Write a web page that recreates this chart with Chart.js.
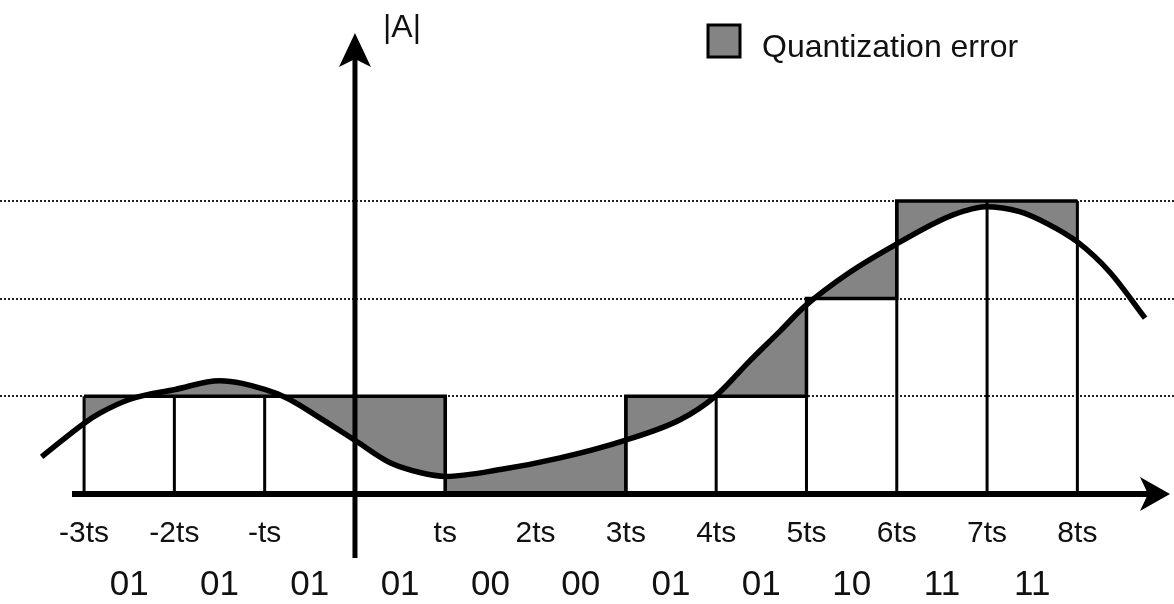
<!DOCTYPE html>
<html lang="en">
<head>
  <meta charset="UTF-8">
  <title>Quantization error</title>
  <script src="https://cdn.jsdelivr.net/npm/chart.js"></script>
  <style>
    html, body { margin: 0; padding: 0; background: #fff; }
    .graph { width: 1174px; height: 604px; }
  </style>
</head>
<body>
  <div class="graph">
    <canvas id="quantChart" width="1174" height="604"></canvas>
  </div>

<script>
  // sample instants (in ts units) bounding each hold interval
  const sampleTimes = [-3, -2, -1, 0, 1, 2, 3, 4, 5, 6, 7, 8];
  // quantized level held during each interval
  const levels = [1, 1, 1, 1, 0, 0, 1, 1, 2, 3, 3];
  const codes = ['01', '01', '01', '01', '00', '00', '01', '01', '10', '11', '11'];

  // analog signal |A|
  const curveT = [-3.47, -2.99, -2.82, -2.49, -1.99, -1.50, -1.00, -0.75, -0.39, 0, 0.39, 0.72, 1.0,
                  1.61, 2.27, 2.99, 3.6, 3.99, 4.37, 4.71, 4.98, 5.48, 5.98, 6.48, 6.76, 6.98,
                  7.36, 7.66, 8.0, 8.36, 8.75];
  const curveA = [0.38, 0.73, 0.83, 0.97, 1.07, 1.16, 1.07, 0.98, 0.78, 0.55, 0.32, 0.22, 0.18,
                  0.25, 0.37, 0.55, 0.76, 1.0, 1.36, 1.67, 1.92, 2.27, 2.55, 2.80, 2.90, 2.94,
                  2.89, 2.77, 2.58, 2.27, 1.80];

  const tickValues = [-3, -2, -1, 1, 2, 3, 4, 5, 6, 7, 8];
  const tickLabels = ['-3ts', '-2ts', '-ts', 'ts', '2ts', '3ts', '4ts', '5ts', '6ts', '7ts', '8ts'];
  const gridLevels = [1, 2, 3];

  const gray = '#848484';

  // built from the arrays above
  const curveData = curveT.map((t, i) => ({ x: t, y: curveA[i] }));
  const stepData = sampleTimes.map((t, i) => ({ x: t, y: levels[Math.min(i, levels.length - 1)] }));
  const edgeData = [];
  sampleTimes.forEach((t, i) => {
    const h = Math.max(levels[i - 1] || 0, levels[i] || 0);
    if (t === 0 || h === 0) return;
    edgeData.push({ x: t, y: 0 }, { x: t, y: h }, { x: t, y: null });
  });
  const codeTicks = codes.map((c, i) => sampleTimes[i] + 0.5);

  const overlay = {
    id: 'overlay',
    afterDraw(chart) {
      const { ctx, scales: { x, y } } = chart;
      const x0 = x.getPixelForValue(0);
      const y0 = y.getPixelForValue(0);
      ctx.save();
      ctx.strokeStyle = '#000';
      ctx.fillStyle = '#000';
      ctx.lineCap = 'butt';

      // horizontal axis
      ctx.lineWidth = 6;
      ctx.beginPath();
      ctx.moveTo(72, y0);
      ctx.lineTo(1150, y0);
      ctx.stroke();
      ctx.beginPath();
      ctx.moveTo(1170, y0);
      ctx.lineTo(1140, y0 - 17);
      ctx.lineTo(1148, y0);
      ctx.lineTo(1140, y0 + 17);
      ctx.closePath();
      ctx.fill();

      // vertical axis
      ctx.lineWidth = 5;
      ctx.beginPath();
      ctx.moveTo(x0, 558);
      ctx.lineTo(x0, 55);
      ctx.stroke();
      ctx.beginPath();
      ctx.moveTo(x0, 33);
      ctx.lineTo(x0 - 16, 67);
      ctx.lineTo(x0, 59);
      ctx.lineTo(x0 + 16, 67);
      ctx.closePath();
      ctx.fill();

      ctx.font = '32px "Liberation Sans", Arial, sans-serif';
      ctx.textBaseline = 'alphabetic';
      ctx.fillStyle = '#111';
      ctx.fillText('|A|', 383, 37);

      // legend
      ctx.fillStyle = gray;
      ctx.fillRect(708, 25, 32, 32);
      ctx.lineWidth = 3;
      ctx.strokeRect(708, 25, 32, 32);
      ctx.fillStyle = '#111';
      ctx.fillText('Quantization error', 762, 57);
      ctx.restore();
    }
  };

  const config = {
    type: 'line',
    data: {
      datasets: [
        {
          label: '|A|',
          data: curveData,
          borderColor: '#000',
          borderWidth: 5.5,
          cubicInterpolationMode: 'monotone',
          pointRadius: 0,
          fill: false
        },
        {
          label: 'Quantization error',
          data: stepData,
          stepped: 'before',
          borderColor: '#000',
          borderWidth: 3.5,
          backgroundColor: gray,
          pointRadius: 0,
          fill: 0
        },
        {
          label: 'edges',
          data: edgeData,
          borderColor: '#000',
          borderWidth: 3,
          pointRadius: 0,
          spanGaps: false,
          fill: false
        }
      ]
    },
    options: {
      animation: false,
      responsive: false,
      layout: { padding: { top: 10, left: 0, right: 0, bottom: 0 } },
      plugins: {
        legend: { display: false },
        tooltip: { enabled: false },
        filler: { drawTime: 'beforeDatasetsDraw' }
      },
      scales: {
        x: {
          type: 'linear',
          position: 'bottom',
          weight: 0,
          min: -3.931,
          max: 9.070,
          border: { display: false },
          grid: { display: false },
          afterBuildTicks: s => { s.ticks = tickValues.map(v => ({ value: v })); },
          afterFit: s => { s.height = 52; },
          ticks: {
            autoSkip: false,
            maxRotation: 0,
            padding: 14,
            color: '#111',
            font: { family: '"Liberation Sans", Arial, sans-serif', size: 30 },
            callback: v => tickLabels[tickValues.indexOf(v)]
          }
        },
        codes: {
          type: 'linear',
          position: 'bottom',
          axis: 'x',
          weight: 1,
          min: -3.931,
          max: 9.070,
          border: { display: false },
          grid: { display: false },
          afterBuildTicks: s => { s.ticks = codeTicks.map(v => ({ value: v })); },
          afterFit: s => { s.height = 58; },
          ticks: {
            autoSkip: false,
            maxRotation: 0,
            padding: 10,
            color: '#111',
            font: { family: '"Liberation Sans", Arial, sans-serif', size: 35 },
            callback: v => codes[codeTicks.indexOf(v)]
          }
        },
        y: {
          min: 0,
          max: 4.954,
          border: { display: false },
          afterBuildTicks: s => { s.ticks = gridLevels.map(v => ({ value: v })); },
          grid: {
            color: '#222',
            lineWidth: 2,
            drawTicks: false
          },
          ticks: { display: false }
        }
      }
    },
    plugins: [overlay]
  };

  // dotted reference levels
  config.options.scales.y.border.dash = [2, 2];
  config.options.scales.y.grid.tickBorderDash = [2, 2];

  new Chart(document.getElementById('quantChart'), config);
</script>
</body>
</html>
